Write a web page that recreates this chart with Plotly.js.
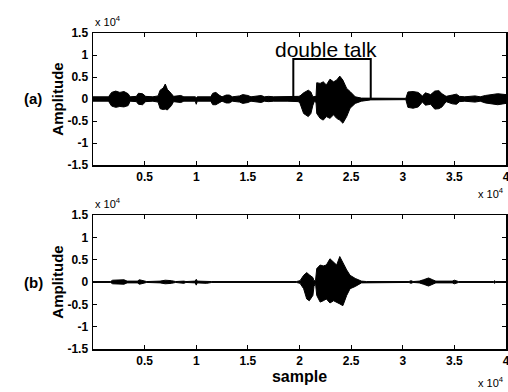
<!DOCTYPE html>
<html>
<head>
<meta charset="utf-8">
<script src="https://cdn.plot.ly/plotly-3.0.1.min.js"></script>
<style>html,body{margin:0;padding:0;background:#fff;}#chart{width:508px;height:392px;}</style>
</head>
<body>
<div id="chart"></div>
<script>
// ---- data (samples, amplitude): waveform envelopes ----
// (a) microphone signal: sample positions, upper envelope, lower envelope
const sampleA = [0,1500,1800,2200,2600,3000,3400,3600,4200,4400,4800,5100,5800,6300,6500,6800,7000,7200,7600,7800,8500,8800,9900,10000,10100,11400,11600,11900,12200,12500,12900,13200,13500,14200,14500,15000,15300,16300,16600,17000,17500,18800,19400,19900,20050,20400,20850,21100,21300,21450,21600,21670,22000,22300,22600,22950,23300,23600,23900,24200,24570,24900,25400,26000,26900,27000,30300,30500,31000,31500,31900,32200,32700,33100,33500,33800,34200,34800,35200,35500,36000,37000,37500,38000,38600,39200,40000];
const upperA  = [500,500,1500,1800,1500,1700,1200,500,600,1300,1200,600,500,700,2000,2500,3400,2200,1200,600,800,500,500,300,500,500,1300,1500,900,500,900,900,500,700,1000,800,500,800,500,600,500,500,500,600,700,1400,2000,1600,500,500,600,3700,3550,3900,3200,4500,3900,4300,5200,4300,2400,1700,500,200,200,150,150,1600,1700,1500,700,1400,1000,1800,1900,1200,600,900,1100,600,500,700,500,800,1000,1200,1000];
const lowerA  = [-500,-500,-1600,-1900,-1700,-1800,-1500,-500,-600,-1200,-1300,-600,-500,-700,-2200,-2400,-2300,-2500,-1500,-600,-800,-500,-500,-1200,-500,-500,-1300,-1300,-900,-500,-900,-900,-500,-700,-1000,-800,-500,-800,-500,-600,-500,-500,-500,-600,-1000,-3300,-4000,-3300,-1400,-500,-800,-3300,-4400,-4800,-4000,-4400,-3600,-4400,-4800,-5500,-4000,-2100,-1000,-500,-200,-150,-150,-1900,-2100,-1800,-700,-1400,-1200,-2300,-2200,-1800,-600,-1100,-1200,-600,-500,-700,-500,-900,-1100,-1300,-1000];
// "double talk" marker box
const boxX = [19400,19400,26900,26900];
const boxY = [0,9100,9100,0];
// (b) echo-cancelled signal
const sampleB = [0,1700,1900,2500,3000,3300,4300,4500,4900,5200,6500,7000,7600,8000,8800,9000,9900,10000,10100,11000,11500,19700,20050,20400,20700,20950,21300,21400,21550,21670,22000,22300,22600,22950,23300,23600,23900,24200,24570,24900,25400,26000,26500,30600,30800,31000,31600,32000,32500,32900,33200,34800,35000,35400,38800,38900,39000,40000];
const upperB  = [100,100,400,500,500,200,200,500,300,100,200,400,300,100,200,100,200,600,200,100,100,100,300,1500,2100,1600,1000,300,300,3000,3800,3600,3800,5200,4500,3800,5700,4200,2700,1500,800,200,100,100,300,100,200,500,900,500,200,200,400,100,100,300,100,100];
const lowerB  = [-100,-100,-400,-500,-500,-200,-200,-500,-300,-100,-200,-400,-300,-100,-300,-100,-200,-700,-200,-300,-100,-100,-300,-1500,-3800,-4200,-3000,-1000,-300,-3000,-4500,-4200,-3800,-4700,-4200,-4500,-4900,-5300,-3000,-1500,-1000,-200,-100,-100,-300,-100,-200,-500,-900,-500,-200,-200,-400,-100,-100,-300,-100,-100];
// ticks
const xTickVals = [5000,10000,15000,20000,25000,30000,35000,40000];
const xTickText = ['0.5','1','1.5','2','2.5','3','3.5','4'];
const yTickVals = [-15000,-10000,-5000,0,5000,10000,15000];
const yTickText = ['-1.5','-1','-0.5','0','0.5','1','1.5'];

function envelope(xs, up, lo, xa, ya) {
  const x = xs.concat(xs.slice().reverse());
  const y = up.concat(lo.slice().reverse());
  return {x: x, y: y, xaxis: xa, yaxis: ya, type: 'scatter', mode: 'lines',
          fill: 'toself', fillcolor: '#000', line: {color: '#000', width: 1},
          hoverinfo: 'skip', showlegend: false};
}

const traces = [
  envelope(sampleA, upperA, lowerA, 'x', 'y'),
  {x: boxX, y: boxY, xaxis: 'x', yaxis: 'y', type: 'scatter', mode: 'lines',
   line: {color: '#000', width: 2}, showlegend: false},
  envelope(sampleB, upperB, lowerB, 'x2', 'y2')
];

const FF = 'Liberation Sans, Arial, sans-serif';
const tickFont = {family: FF, size: 12, color: '#000', weight: 'bold'};
const H = 392;
function py(p) { return 1 - p / H; }

const xBase = {range: [0, 40000], tickvals: xTickVals, ticktext: xTickText,
  ticks: 'inside', ticklen: 4, tickwidth: 1, tickcolor: '#000', mirror: 'ticks',
  showline: true, linecolor: '#000', linewidth: 1.5, showgrid: false, zeroline: false,
  tickfont: tickFont, automargin: false, fixedrange: true, ticklabeloverflow: 'allow'};
const yBase = {range: [-15000, 15000], tickvals: yTickVals, ticktext: yTickText,
  ticks: 'inside', ticklen: 4, tickwidth: 1, tickcolor: '#000', mirror: 'ticks',
  showline: true, linecolor: '#000', linewidth: 1.5, showgrid: false, zeroline: false,
  tickfont: tickFont, automargin: false, fixedrange: true, ticklabelstandoff: 1,
  title: {text: 'Amplitude', font: {family: FF, size: 15, color: '#000', weight: 'bold'}, standoff: 0}};

const layout = {
  width: 508, height: 392,
  margin: {l: 93, r: 2, t: 0, b: 0},
  paper_bgcolor: '#fff', plot_bgcolor: '#fff',
  showlegend: false,
  xaxis: Object.assign({}, xBase, {domain: [0, 1], anchor: 'y'}),
  yaxis: Object.assign({}, yBase, {domain: [py(165), py(33)], anchor: 'x'}),
  xaxis2: Object.assign({}, xBase, {domain: [0, 1], anchor: 'y2',
    title: {text: 'sample', font: {family: FF, size: 16, color: '#000', weight: 'bold'}, standoff: 2}}),
  yaxis2: Object.assign({}, yBase, {domain: [py(349), py(215)], anchor: 'x2'}),
  annotations: [
    {text: 'double talk', xref: 'x', yref: 'y', x: 22600, y: 11300, showarrow: false,
     font: {family: FF, size: 21, color: '#000'}},
    {text: '(a)', xref: 'paper', yref: 'paper', x: -0.145, y: py(99), xanchor: 'center', yanchor: 'middle', showarrow: false,
     font: {family: FF, size: 15, color: '#000', weight: 'bold'}},
    {text: '(b)', xref: 'paper', yref: 'paper', x: -0.145, y: py(282), xanchor: 'center', yanchor: 'middle', showarrow: false,
     font: {family: FF, size: 15, color: '#000', weight: 'bold'}},
    {text: 'x 10<sup>4</sup>', xref: 'paper', yref: 'paper', x: 0, y: py(30), xanchor: 'left', yanchor: 'bottom', showarrow: false,
     font: {family: FF, size: 11, color: '#000'}},
    {text: 'x 10<sup>4</sup>', xref: 'paper', yref: 'paper', x: 0, y: py(212), xanchor: 'left', yanchor: 'bottom', showarrow: false,
     font: {family: FF, size: 11, color: '#000'}},
    {text: 'x 10<sup>4</sup>', xref: 'paper', yref: 'paper', x: 1, y: py(202), xanchor: 'right', yanchor: 'bottom', showarrow: false,
     font: {family: FF, size: 11, color: '#000'}},
    {text: 'x 10<sup>4</sup>', xref: 'paper', yref: 'paper', x: 1, y: py(391), xanchor: 'right', yanchor: 'bottom', showarrow: false,
     font: {family: FF, size: 11, color: '#000'}}
  ]
};

Plotly.newPlot('chart', traces, layout, {staticPlot: true, displayModeBar: false});
</script>
</body>
</html>
